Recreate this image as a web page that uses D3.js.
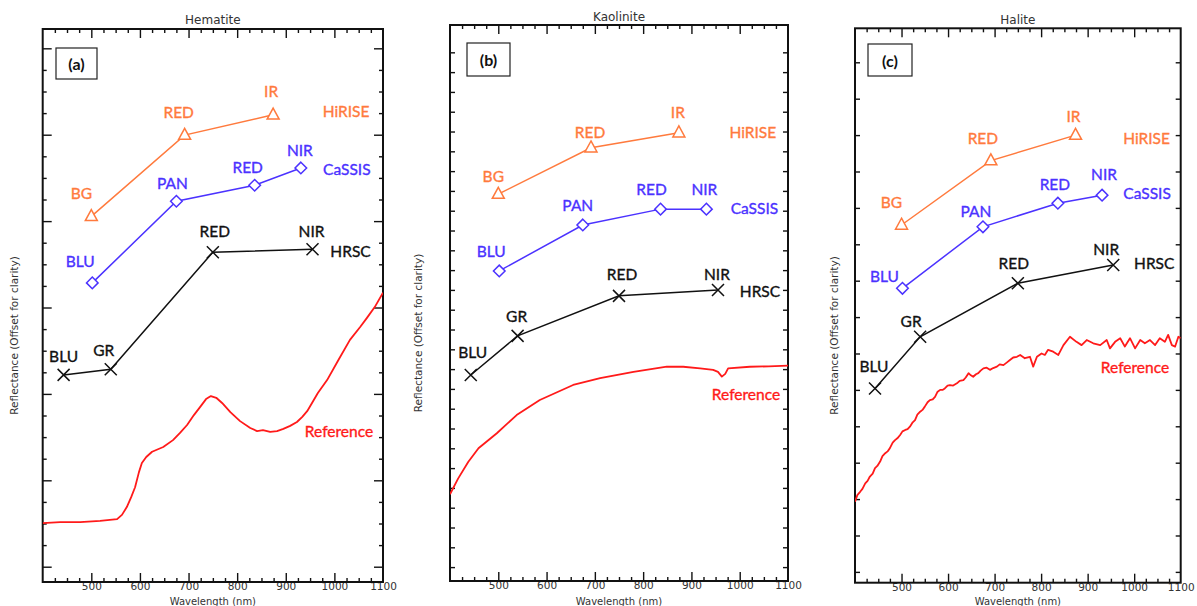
<!DOCTYPE html>
<html><head><meta charset="utf-8">
<script src="https://cdn.jsdelivr.net/npm/d3@7/dist/d3.min.js"></script>
<style>
html,body{margin:0;padding:0;background:#fff;}
svg{display:block;}
</style></head>
<body>
<svg id="chart" width="1197" height="606"></svg>
<script>
// ---------------- DATA ----------------
const xTickLabels = [500, 600, 700, 800, 900, 1000, 1100];
const panelTitles = ["Hematite", "Kaolinite", "Halite"];
const panelTags = ["(a)", "(b)", "(c)"];

const hiriseBands = ["BG", "RED", "IR"];
const hiriseWl = [500, 692, 874];
const cassisBands = ["BLU", "PAN", "RED", "NIR"];
const cassisWl = [502, 675, 836, 931];
const hrscBands = ["BLU", "GR", "RED", "NIR"];
const hrscWl = [443, 540, 750, 955];

// Hematite
const hematiteHirise = [0.811, 0.999, 1.046];
const hematiteCassis = [0.657, 0.846, 0.883, 0.923];
const hematiteHrsc = [0.444, 0.457, 0.728, 0.735];
const hematiteRefWl = [400, 436, 477, 518, 553, 563, 573, 582, 590, 598, 604, 613, 625, 648, 668, 682, 697, 711, 724, 736, 746, 757, 769, 786, 806, 827, 841, 853, 868, 882, 895, 909, 923, 934, 944, 954, 966, 985, 1008, 1032, 1053, 1067, 1083, 1100];
const hematiteRefR = [0.101, 0.103, 0.103, 0.106, 0.110, 0.120, 0.138, 0.161, 0.184, 0.219, 0.240, 0.254, 0.266, 0.277, 0.293, 0.309, 0.328, 0.351, 0.370, 0.388, 0.395, 0.391, 0.379, 0.358, 0.337, 0.321, 0.314, 0.316, 0.312, 0.314, 0.319, 0.326, 0.335, 0.347, 0.360, 0.379, 0.402, 0.432, 0.478, 0.525, 0.555, 0.576, 0.601, 0.634];

// Kaolinite
const kaoliniteHirise = [0.942, 1.059, 1.097];
const kaoliniteCassis = [0.748, 0.864, 0.904, 0.904];
const kaoliniteHrsc = [0.485, 0.584, 0.685, 0.700];
const kaoliniteRefWl = [400, 417, 438, 459, 497, 538, 586, 655, 711, 780, 849, 883, 918, 945, 955, 963, 970, 976, 1021, 1060, 1100];
const kaoliniteRefR = [0.184, 0.224, 0.266, 0.300, 0.338, 0.384, 0.422, 0.460, 0.477, 0.493, 0.506, 0.506, 0.502, 0.498, 0.493, 0.481, 0.488, 0.502, 0.506, 0.507, 0.509];

// Halite
const haliteHirise = [0.953, 1.130, 1.200];
const haliteCassis = [0.779, 0.948, 1.013, 1.035];
const haliteHrsc = [0.504, 0.646, 0.793, 0.843];
const haliteRefWl = [400, 405, 411, 416, 422, 427, 432, 438, 443, 448, 454, 459, 465, 470, 475, 481, 486, 491, 497, 502, 508, 513, 518, 524, 529, 534, 540, 545, 550, 556, 561, 567, 572, 577, 583, 588, 593, 599, 604, 611, 619, 625, 633, 638, 644, 649, 654, 660, 665, 670, 676, 683, 690, 697, 705, 711, 719, 726, 733, 740, 748, 755, 765, 776, 783, 791, 801, 808, 815, 826, 837, 848, 862, 876, 887, 898, 912, 927, 941, 948, 959, 970, 980, 991, 1002, 1013, 1023, 1034, 1045, 1055, 1066, 1073, 1081, 1088, 1095, 1100];
const haliteRefR = [0.193, 0.211, 0.220, 0.228, 0.243, 0.250, 0.262, 0.270, 0.285, 0.291, 0.303, 0.318, 0.326, 0.331, 0.340, 0.355, 0.362, 0.367, 0.376, 0.386, 0.390, 0.392, 0.399, 0.411, 0.417, 0.432, 0.440, 0.445, 0.454, 0.466, 0.472, 0.474, 0.481, 0.494, 0.500, 0.500, 0.504, 0.512, 0.513, 0.512, 0.518, 0.525, 0.527, 0.534, 0.546, 0.540, 0.536, 0.543, 0.546, 0.553, 0.559, 0.561, 0.555, 0.560, 0.564, 0.570, 0.568, 0.575, 0.582, 0.589, 0.591, 0.596, 0.587, 0.591, 0.564, 0.591, 0.600, 0.596, 0.610, 0.605, 0.596, 0.623, 0.646, 0.632, 0.623, 0.637, 0.628, 0.623, 0.637, 0.614, 0.632, 0.642, 0.619, 0.642, 0.614, 0.637, 0.628, 0.637, 0.623, 0.642, 0.632, 0.651, 0.623, 0.619, 0.646, 0.642];

// ---------------- LAYOUT / STYLE ----------------
const COL = {hirise: "#FF7A3D", cassis: "#4B32FF", hrsc: "#111111", ref: "#FF1A1A"};
const labelFont = "Lato, 'Open Sans', sans-serif";
const axisFont = "'DejaVu Sans', sans-serif";

const panels = [
  { title: panelTitles[0], tag: panelTags[0], left: 42.7, right: 383, top: 29, bottom: 582,
    yDomain: [-0.0354, 1.2447], yStep: 0.05, yMax: 1.2, yMajorEvery: 4, yMinorLen: 4, yMajorLen: 9,
    titleY: 24, yLabelX: 14, box: [56, 48, 41, 31],
    hirise: hematiteHirise, cassis: hematiteCassis, hrsc: hematiteHrsc,
    refWl: hematiteRefWl, refR: hematiteRefR,
    offHirise: [[-10,-23],[-6,-23],[-2,-24]], offCassis: [[-12,-22],[-4,-18],[-7,-18],[-1,-18]], offHrsc: [[0,-19],[-7,-19],[2,-21],[-1,-18]],
    nameHirise: [73,-4], nameCassis: [46,1], nameHrsc: [38,2], refLabel: [339, 431] },
  { title: panelTitles[1], tag: panelTags[1], left: 450, right: 788, top: 25, bottom: 581,
    yDomain: [-0.0351, 1.369], yStep: 0.05, yMax: 1.3, yMajorEvery: 1, yMinorLen: 5, yMajorLen: 5,
    titleY: 21, yLabelX: 418, box: [467, 43, 43, 33],
    hirise: kaoliniteHirise, cassis: kaoliniteCassis, hrsc: kaoliniteHrsc,
    refWl: kaoliniteRefWl, refR: kaoliniteRefR,
    offHirise: [[-5,-18],[-1,-16],[-1,-21]], offCassis: [[-8,-20],[-5,-20],[-9,-20],[-2,-20]], offHrsc: [[2,-23],[-1,-20],[3,-22],[-1,-16]],
    nameHirise: [74,-1], nameCassis: [48,-1], nameHrsc: [42,1], refLabel: [746, 394] },
  { title: panelTitles[2], tag: panelTags[2], left: 855, right: 1180.7, top: 28.3, bottom: 582.7,
    yDomain: [-0.0297, 1.4934], yStep: 0.1, yMax: 1.4, yMajorEvery: 1, yMinorLen: 5, yMajorLen: 5,
    titleY: 24, yLabelX: 834, box: [868, 44, 44, 32],
    hirise: haliteHirise, cassis: haliteCassis, hrsc: haliteHrsc,
    refWl: haliteRefWl, refR: haliteRefR,
    offHirise: [[-10,-23],[-8,-23],[-2,-19]], offCassis: [[-18,-12],[-7,-16],[-3,-19],[2,-21]], offHrsc: [[-1,-22],[-9,-16],[-4,-20],[-7,-16]],
    nameHirise: [71,3], nameCassis: [45,-2], nameHrsc: [41,-2], refLabel: [1135, 367] }
];

const svg = d3.select("#chart");

const triPath = "M0,-6.8L6,4.2L-6,4.2Z";
const diaPath = "M0,-5.8L5.8,0L0,5.8L-5.8,0Z";
const xPath = "M-6,-6L6,6M-6,6L6,-6";

function lbl(sel, col) {
  return sel.attr("font-family", labelFont).attr("font-size", 15.5).attr("fill", col)
    .attr("stroke", col).attr("stroke-width", 0.35);
}

panels.forEach((p, i) => {
  const g = svg.append("g");
  const x = d3.scaleLinear().domain([400, 1100]).range([p.left, p.right]);
  const y = d3.scaleLinear().domain(p.yDomain).range([p.bottom, p.top]);

  const clipId = "clip" + i;
  svg.append("clipPath").attr("id", clipId).append("rect")
    .attr("x", p.left).attr("y", p.top).attr("width", p.right - p.left).attr("height", p.bottom - p.top);

  const minorX = d3.range(425, 1100, 25).filter(v => v % 100 !== 0);
  const majorX = d3.range(500, 1100, 100);
  const styleAxis = sel => {
    sel.select(".domain").remove();
    sel.selectAll(".tick line").attr("stroke", "#111").attr("stroke-width", 1.4);
  };
  g.append("g").attr("transform", `translate(0,${p.bottom})`)
    .call(d3.axisBottom(x).tickValues(minorX).tickSize(-4).tickFormat("")).call(styleAxis);
  g.append("g").attr("transform", `translate(0,${p.bottom})`)
    .call(d3.axisBottom(x).tickValues(majorX).tickSize(-9).tickFormat("")).call(styleAxis);
  g.append("g").attr("transform", `translate(0,${p.top})`)
    .call(d3.axisTop(x).tickValues(minorX).tickSize(-4).tickFormat("")).call(styleAxis);
  g.append("g").attr("transform", `translate(0,${p.top})`)
    .call(d3.axisTop(x).tickValues(majorX).tickSize(-9).tickFormat("")).call(styleAxis);
  g.append("g").attr("transform", `translate(0,${p.bottom})`)
    .call(d3.axisBottom(x).tickValues(xTickLabels).tickSize(0).tickPadding(1).tickFormat(d3.format("d")))
    .call(sel => { sel.select(".domain").remove();
      sel.selectAll("text").attr("font-family", axisFont).attr("font-size", 10.5).attr("fill", "#333"); });

  const yT = d3.range(0, Math.round(p.yMax / p.yStep) + 1).map(k => +(k * p.yStep).toFixed(3));
  const yMinor = yT.filter((v, k) => k % p.yMajorEvery !== 0);
  const yMajor = yT.filter((v, k) => k % p.yMajorEvery === 0);
  [[yMinor, p.yMinorLen], [yMajor, p.yMajorLen]].forEach(([vals, len]) => {
    g.append("g").attr("transform", `translate(${p.left},0)`)
      .call(d3.axisLeft(y).tickValues(vals).tickSize(-len).tickFormat("")).call(styleAxis);
    g.append("g").attr("transform", `translate(${p.right},0)`)
      .call(d3.axisRight(y).tickValues(vals).tickSize(-len).tickFormat("")).call(styleAxis);
  });

  g.append("rect").attr("x", p.left).attr("y", p.top).attr("width", p.right - p.left).attr("height", p.bottom - p.top)
    .attr("fill", "none").attr("stroke", "#111").attr("stroke-width", 2);

  g.append("text").attr("x", (p.left + p.right) / 2).attr("y", p.titleY).attr("text-anchor", "middle")
    .attr("font-family", axisFont).attr("font-size", 12).attr("fill", "#333").text(p.title);
  g.append("text").attr("x", (p.left + p.right) / 2).attr("y", 604.5).attr("text-anchor", "middle")
    .attr("font-family", axisFont).attr("font-size", 10).attr("fill", "#333").text("Wavelength (nm)");
  g.append("text").attr("transform", `translate(${p.yLabelX},${(p.top + p.bottom) / 2 + 30}) rotate(-90)`)
    .attr("text-anchor", "middle").attr("dominant-baseline", "central")
    .attr("font-family", axisFont).attr("font-size", 10.5).attr("fill", "#333")
    .text("Reflectance (Offset for clarity)");

  g.append("rect").attr("x", p.box[0]).attr("y", p.box[1]).attr("width", p.box[2]).attr("height", p.box[3])
    .attr("fill", "#fff").attr("stroke", "#222").attr("stroke-width", 1.2);
  g.append("text").attr("x", p.box[0] + p.box[2] / 2).attr("y", p.box[1] + p.box[3] / 2)
    .attr("text-anchor", "middle").attr("dominant-baseline", "central")
    .attr("font-family", labelFont).attr("font-weight", 700).attr("font-size", 16).attr("fill", "#111").text(p.tag);

  const line = d3.line().x(d => x(d[0])).y(d => y(d[1]));

  const refPts = p.refWl.map((w, k) => [w, p.refR[k]]);
  g.append("path").attr("d", line(refPts)).attr("clip-path", `url(#${clipId})`)
    .attr("fill", "none").attr("stroke", COL.ref).attr("stroke-width", 1.8).attr("stroke-linejoin", "round");
  lbl(g.append("text").attr("x", p.refLabel[0]).attr("y", p.refLabel[1]).attr("text-anchor", "middle")
    .attr("dominant-baseline", "central"), COL.ref).text("Reference");

  const inst = [
    {wl: hiriseWl, v: p.hirise, bands: hiriseBands, col: COL.hirise, sym: triPath, off: p.offHirise, name: "HiRISE", nOff: p.nameHirise},
    {wl: cassisWl, v: p.cassis, bands: cassisBands, col: COL.cassis, sym: diaPath, off: p.offCassis, name: "CaSSIS", nOff: p.nameCassis},
    {wl: hrscWl, v: p.hrsc, bands: hrscBands, col: COL.hrsc, sym: xPath, off: p.offHrsc, name: "HRSC", nOff: p.nameHrsc}
  ];
  inst.forEach(s => {
    const pts = s.wl.map((w, k) => [w, s.v[k]]);
    g.append("path").attr("d", line(pts)).attr("fill", "none").attr("stroke", s.col).attr("stroke-width", 1.5);
    g.selectAll(null).data(pts).enter().append("path")
      .attr("transform", d => `translate(${x(d[0])},${y(d[1])})`)
      .attr("d", s.sym).attr("fill", s.sym === xPath ? "none" : "#fff").attr("stroke", s.col).attr("stroke-width", 1.5);
    lbl(g.selectAll(null).data(pts).enter().append("text")
      .attr("x", (d, k) => x(d[0]) + s.off[k][0]).attr("y", (d, k) => y(d[1]) + s.off[k][1])
      .attr("text-anchor", "middle").attr("dominant-baseline", "central"), s.col)
      .text((d, k) => s.bands[k]);
    const last = pts[pts.length - 1];
    lbl(g.append("text").attr("x", x(last[0]) + s.nOff[0]).attr("y", y(last[1]) + s.nOff[1])
      .attr("text-anchor", "middle").attr("dominant-baseline", "central"), s.col).text(s.name);
  });
});
</script>
</body></html>
